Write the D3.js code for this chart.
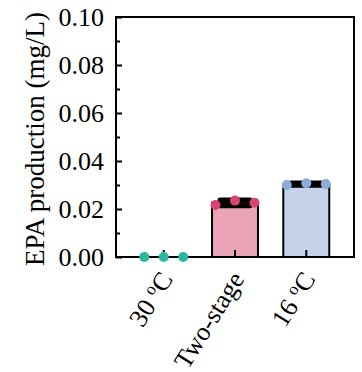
<!DOCTYPE html>
<html lang="en">
  <head>
    <meta charset="UTF-8" />
    <title>EPA production</title>
    <style>
      body { margin: 0; background: #fff; }
      text { font-family: "Times New Roman", "Liberation Serif", serif; }
    </style>
  </head>
  <body>
    <svg id="svg" width="362" height="372"></svg>

    <script src="https://cdn.jsdelivr.net/npm/d3@7"></script>
    <script>
      const WIDTH = 362;
      const HEIGHT = 372;
      const LEFT = 116;
      const RIGHT = 354;
      const TOP = 17;
      const BOTTOM = 257;

      const groups = ["30", "Two-stage", "16"];
      const labels = [["30 ", "o", "C"], ["Two-stage"], ["16 ", "o", "C"]];
      const replicates = [
        [0, 0, 0],
        [0.0217, 0.0235, 0.0226],
        [0.03, 0.0307, 0.0304],
      ];
      const errors = [0, 0.0012, 0.0005];
      const dotColors = ["#2bb8a3", "#d8446f", "#8fa9d9"];
      const barColors = ["#a8e0d6", "#eba3b7", "#c5d2ea"];
      const yTicks = [0, 0.02, 0.04, 0.06, 0.08, 0.1];
      const yMinor = [0.01, 0.03, 0.05, 0.07, 0.09];

      const svg = d3.select("#svg");

      const x = d3
        .scaleBand()
        .domain(groups)
        .range([LEFT, RIGHT])
        .paddingInner(0.355)
        .paddingOuter(0.347);

      const y = d3.scaleLinear().domain([0, 0.1]).range([BOTTOM, TOP]);

      const means = replicates.map((r) => d3.mean(r));

      // bars (first group is zero, so it has no height)
      svg
        .append("g")
        .selectAll("rect")
        .data(groups)
        .join("rect")
        .attr("x", (d) => x(d))
        .attr("y", (d, i) => y(means[i]))
        .attr("width", x.bandwidth())
        .attr("height", (d, i) => BOTTOM - y(means[i]))
        .attr("fill", (d, i) => barColors[i])
        .attr("stroke", "#000")
        .attr("stroke-width", 2)
        .style("display", (d, i) => (means[i] > 0 ? null : "none"));

      // frame
      svg
        .append("rect")
        .attr("x", LEFT)
        .attr("y", TOP)
        .attr("width", RIGHT - LEFT)
        .attr("height", BOTTOM - TOP)
        .attr("fill", "none")
        .attr("stroke", "#000")
        .attr("stroke-width", 2);

      // left axis, ticks pointing inward
      const leftAxis = d3
        .axisLeft(y)
        .tickValues(yTicks)
        .tickSize(-6)
        .tickPadding(12)
        .tickFormat(d3.format(".2f"));
      const gy = svg
        .append("g")
        .attr("transform", `translate(${LEFT}, 0)`)
        .call(leftAxis);
      gy.attr("font-family", null);
      gy.select(".domain").remove();
      gy.selectAll("line").attr("stroke-width", 2);
      gy.selectAll("text").attr("font-size", 26).attr("fill", "#000");

      const gyMinor = svg
        .append("g")
        .attr("transform", `translate(${LEFT}, 0)`)
        .call(d3.axisLeft(y).tickValues(yMinor).tickSize(-4).tickFormat(""));
      gyMinor.select(".domain").remove();
      gyMinor.selectAll("line").attr("stroke-width", 2);

      // bottom axis ticks at bar centres, pointing up
      const gx = svg
        .append("g")
        .attr("transform", `translate(0, ${BOTTOM})`)
        .call(d3.axisBottom(x).tickSize(-7).tickFormat(""));
      gx.select(".domain").remove();
      gx.selectAll("line").attr("stroke-width", 2);

      // error bars
      const eb = svg.append("g");
      groups.forEach((g, i) => {
        if (errors[i] === 0) return;
        const cx = x(g) + x.bandwidth() / 2;
        const hi = y(means[i] + errors[i]);
        const lo = y(means[i] - errors[i]);
        eb.append("line")
          .attr("x1", cx).attr("x2", cx)
          .attr("y1", hi).attr("y2", lo)
          .attr("stroke", "#000").attr("stroke-width", 3);
        [hi, lo].forEach((yy) => {
          eb.append("line")
            .attr("x1", cx - 15).attr("x2", cx + 15)
            .attr("y1", yy).attr("y2", yy)
            .attr("stroke", "#000").attr("stroke-width", 5)
            .attr("stroke-linecap", "round");
        });
      });

      // replicate dots
      const offsets = [-19.5, 0, 19.5];
      groups.forEach((g, i) => {
        const cx = x(g) + x.bandwidth() / 2;
        svg
          .append("g")
          .selectAll("circle")
          .data(replicates[i])
          .join("circle")
          .attr("cx", (d, j) => cx + offsets[j])
          .attr("cy", (d) => y(d))
          .attr("r", 5)
          .attr("fill", dotColors[i]);
      });

      // x labels
      groups.forEach((g, i) => {
        const cx = x(g) + x.bandwidth() / 2;
        const t = svg
          .append("text")
          .attr("transform", `translate(${cx + 10}, ${BOTTOM + 22}) rotate(-58)`)
          .attr("text-anchor", "end")
          .attr("font-size", 26)
          .attr("fill", "#000");
        labels[i].forEach((part) => {
          const s = t.append("tspan").text(part);
          if (part === "o") {
            s.attr("font-size", 17).attr("dy", -9);
          } else if (part === "C") {
            s.attr("dy", 9);
          }
        });
      });

      // y label
      svg
        .append("text")
        .attr("transform", `translate(44, 139) rotate(-90)`)
        .attr("text-anchor", "middle")
        .attr("font-size", 27)
        .attr("fill", "#000")
        .text("EPA production (mg/L)");
    </script>
  </body>
</html>
